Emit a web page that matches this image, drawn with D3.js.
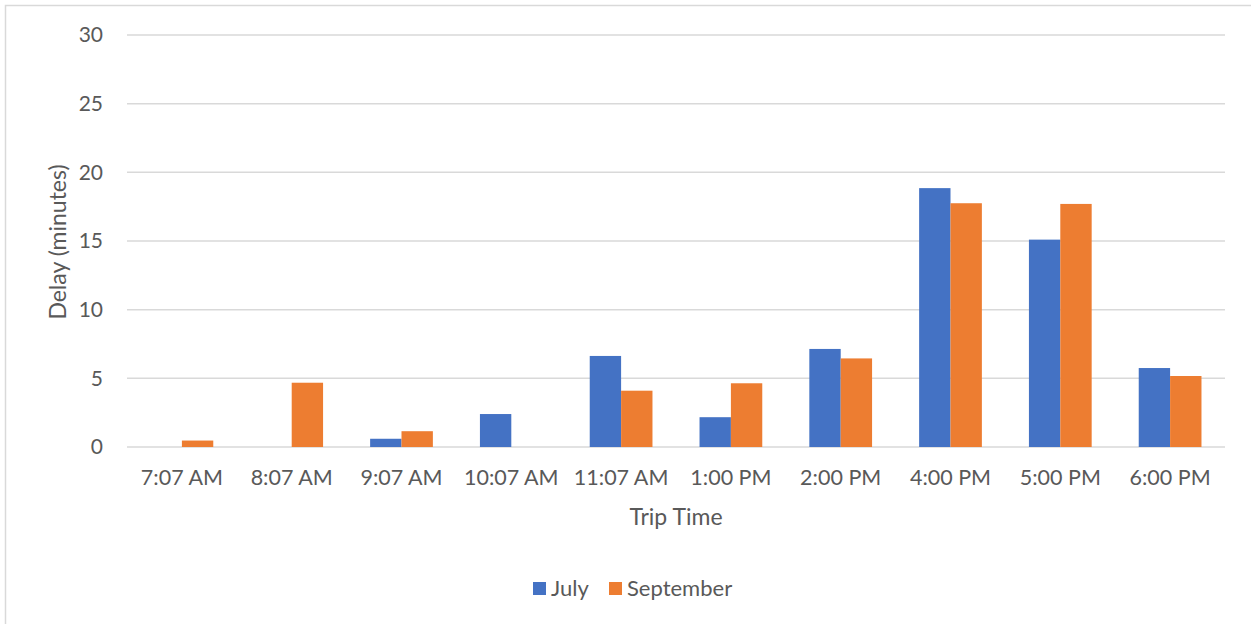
<!DOCTYPE html>
<html><head><meta charset="utf-8">
<script src="https://cdn.jsdelivr.net/npm/d3@7"></script>
<style>body{margin:0;background:#fff}svg{display:block}</style>
</head><body>
<script>
const categories = ["7:07 AM","8:07 AM","9:07 AM","10:07 AM","11:07 AM","1:00 PM","2:00 PM","4:00 PM","5:00 PM","6:00 PM"];
const seriesNames = ["July","September"];
const july = [0, 0, 0.6, 2.4, 6.63, 2.17, 7.14, 18.85, 15.1, 5.75];
const september = [0.47, 4.68, 1.15, 0, 4.1, 4.64, 6.45, 17.75, 17.7, 5.17];
const yTicks = [0,5,10,15,20,25,30];
const colors = ["#4472C4","#ED7D31"];

const W=1251,H=624;
const font = "Lato, 'Open Sans', sans-serif";
const txt = "#595959";
const svg = d3.select("body").append("svg").attr("width",W).attr("height",H);
svg.append("rect").attr("width",W).attr("height",H).attr("fill","#fff");
// chart frame
svg.append("path").attr("d","M5.5,625 V5.5 H1252").attr("fill","none").attr("stroke","#D9D9D9").attr("stroke-width",1.5);

const m={l:127,r:1225,t:35,b:447};
const x = d3.scaleBand().domain(categories).range([m.l,m.r]).paddingInner(0).paddingOuter(0);
const y = d3.scaleLinear().domain([0,30]).range([m.b,m.t]);
const bw = x.bandwidth()/3.5;
const x1 = d3.scaleBand().domain(seriesNames).range([0,2*bw]);

// gridlines
svg.append("g").selectAll("line").data(yTicks).join("line")
  .attr("x1",m.l).attr("x2",m.r).attr("y1",d=>y(d)).attr("y2",d=>y(d))
  .attr("stroke","#D9D9D9").attr("stroke-width",1.5);

// y axis labels
const yAxis = d3.axisLeft(y).tickValues(yTicks).tickSize(0).tickPadding(24);
const yg = svg.append("g").attr("transform",`translate(${m.l},0)`).call(yAxis);
yg.select(".domain").remove();
yg.selectAll("text").attr("fill",txt).style("font-family",font).style("font-size","21px");

// bars
const data = categories.map((c,i)=>({c, vals:[july[i],september[i]]}));
const groups = svg.append("g").selectAll("g").data(data).join("g")
  .attr("transform",d=>`translate(${x(d.c)+(x.bandwidth()-2*bw)/2},0)`);
groups.selectAll("rect").data(d=>d.vals.map((v,k)=>({v,k}))).join("rect")
  .attr("x",d=>x1(seriesNames[d.k])).attr("width",x1.bandwidth())
  .attr("y",d=>y(d.v)).attr("height",d=>y(0)-y(d.v))
  .attr("fill",d=>colors[d.k]);

// x axis labels
const xAxis = d3.axisBottom(x).tickSize(0).tickPadding(23);
const xg = svg.append("g").attr("transform",`translate(0,${m.b})`).call(xAxis);
xg.select(".domain").remove();
xg.selectAll("text").attr("fill",txt).style("font-family",font).style("font-size","21.5px");

// axis titles
svg.append("text").attr("x",(m.l+m.r)/2).attr("y",525).attr("text-anchor","middle")
  .attr("fill",txt).style("font-family",font).style("font-size","23px").text("Trip Time");
svg.append("text").attr("transform",`translate(66,${242}) rotate(-90)`).attr("text-anchor","middle")
  .attr("fill",txt).style("font-family",font).style("font-size","23px").text("Delay (minutes)");

// legend
const legX=[533,609];
const lg = svg.append("g");
seriesNames.forEach((s,k)=>{
  lg.append("rect").attr("x",legX[k]).attr("y",582).attr("width",13).attr("height",13).attr("fill",colors[k]);
  lg.append("text").attr("x",legX[k]+18).attr("y",596).attr("fill",txt)
    .style("font-family",font).style("font-size","22px").text(s);
});
</script>
</body></html>
